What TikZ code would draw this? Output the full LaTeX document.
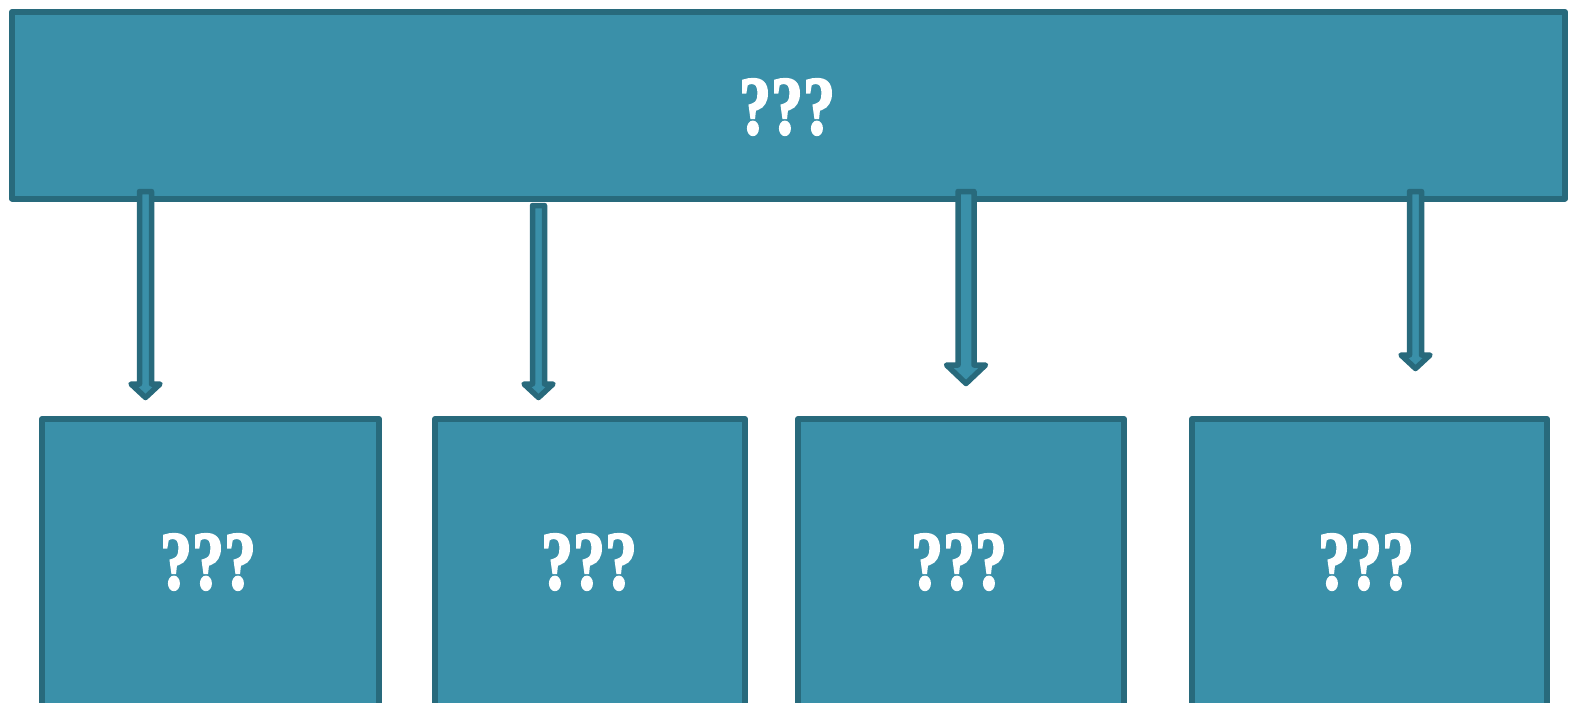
\documentclass[tikz,border=0pt]{standalone}
\usepackage{fontspec}
\newfontfamily\qfont{Liberation Serif}[UprightFont={* Bold}, FakeBold=2.5]
\definecolor{boxfill}{HTML}{3A90A9}
\definecolor{boxline}{HTML}{286A7C}
\tikzset{
  tealbox/.style={fill=boxfill, draw=boxline, line width=6pt, line join=round},
  qtext/.style={text=white, font=\qfont\fontsize{64}{64}\selectfont, inner sep=0pt},
  blockarrow/.style={fill=boxfill, draw=boxline, line width=5.5pt, line join=round}
}
\newcommand{\blockarr}[6]{% x, ytop, shaft half, head half, shoulder y, tip y
  \draw[blockarrow] (#1-#3,#2) -- (#1+#3,#2) -- (#1+#3,#5) -- (#1+#4,#5) -- (#1,#6) -- (#1-#4,#5) -- (#1-#3,#5) -- cycle;}
\newcommand{\qqq}{\scalebox{1}[1.3]{???}}
\begin{document}
\begin{tikzpicture}[x=1pt,y=-1pt]
\useasboundingbox (0,0) rectangle (1573,702);
\clip (0,0) rectangle (1573,702);
\draw[tealbox] (12,12) rectangle (1565,198.5);
\node[qtext] (top) at (787,107) {\qqq};
\draw[tealbox] (42,419) rectangle (379,720);
\draw[tealbox] (435,419) rectangle (745,720);
\draw[tealbox] (798,419) rectangle (1124,720);
\draw[tealbox] (1192,419) rectangle (1547,720);
\node[qtext] (b1) at (208,562) {\qqq};
\node[qtext] (b2) at (589,562) {\qqq};
\node[qtext] (b3) at (959,562) {\qqq};
\node[qtext] (b4) at (1366,562) {\qqq};
\blockarr{145.5}{191.5}{6}{14.5}{384}{397.5}
\blockarr{538.5}{205.5}{6}{14.5}{384}{397.5}
\blockarr{966}{191.5}{8}{19.5}{365}{383.5}
\blockarr{1415.5}{191.5}{6}{14.5}{355}{368.5}
\end{tikzpicture}
\end{document}
